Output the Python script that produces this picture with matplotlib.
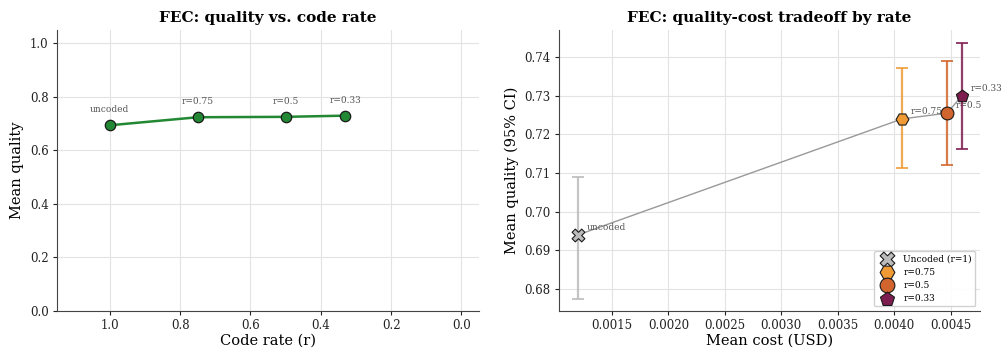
import matplotlib
matplotlib.use("Agg")
import matplotlib.pyplot as plt

plt.rcParams['font.family'] = ['DejaVu Serif']

rates = [1.0, 0.75, 0.5, 0.33]
rate_labels = ["uncoded", "r=0.75", "r=0.5", "r=0.33"]
quality = [0.694, 0.7240, 0.7255, 0.7300]
cost = [0.00120, 0.00407, 0.00447, 0.00460]
ci_low = [0.6773, 0.7113, 0.7122, 0.7161]
ci_high = [0.7090, 0.7372, 0.7390, 0.7437]
legend_labels = ["Uncoded (r=1)", "r=0.75", "r=0.5", "r=0.33"]
colors = ["#bbbbbb", "#f09a36", "#d2652d", "#7d1d4f"]
markers = ["X", "H", "o", "p"]

fig = plt.figure(figsize=(10.03, 3.5), dpi=100)
ax1 = fig.add_axes([0.0568, 0.1114, 0.4208, 0.8029])
ax2 = fig.add_axes([0.5573, 0.1114, 0.4197, 0.8029])

for ax in (ax1, ax2):
    ax.spines['top'].set_visible(False)
    ax.spines['right'].set_visible(False)
    for s in ('left', 'bottom'):
        ax.spines[s].set_color('#444444')
    ax.grid(True, color='#e3e3e3', linewidth=0.8)
    ax.set_axisbelow(True)
    ax.tick_params(labelsize=8.5, colors='#222222', length=3, pad=3)

# Left panel
ax1.plot(rates, quality, '-o', color='#228833', linewidth=1.8, markersize=7.5,
         markeredgecolor='#1a1a1a', markeredgewidth=0.9)
for r, q, lab in zip(rates, quality, rate_labels):
    ax1.annotate(lab, (r, q), xytext=(0, 8), textcoords='offset points',
                 ha='center', va='bottom', fontsize=6.5, color='#555555')
ax1.set_xlim(1.15, -0.05)
ax1.set_ylim(0, 1.05)
ax1.set_xticks([1.0, 0.8, 0.6, 0.4, 0.2, 0.0])
ax1.set_yticks([0.0, 0.2, 0.4, 0.6, 0.8, 1.0])
ax1.set_xlabel("Code rate (r)", fontsize=10.5, labelpad=1)
ax1.set_ylabel("Mean quality", fontsize=10.5)
ax1.set_title("FEC: quality vs. code rate", fontsize=11, fontweight='bold')

# Right panel
ax2.plot(cost, quality, '-', color='#999999', linewidth=1.0, zorder=2)
for i in range(len(cost)):
    ax2.errorbar(cost[i], quality[i],
                 yerr=[[quality[i] - ci_low[i]], [ci_high[i] - quality[i]]],
                 fmt='none', ecolor=colors[i], elinewidth=1.6, capsize=4,
                 capthick=1.4, alpha=0.85, zorder=3)
    ax2.scatter(cost[i], quality[i], marker=markers[i], s=85, color=colors[i],
                edgecolors='#1a1a1a', linewidths=0.8, zorder=4,
                label=legend_labels[i])
    ax2.annotate(rate_labels[i], (cost[i], quality[i]), xytext=(6, 2),
                 textcoords='offset points', fontsize=6.5, color='#555555',
                 ha='left', va='bottom')
ax2.set_xlim(0.00103, 0.00476)
ax2.set_ylim(0.6743, 0.747)
ax2.set_xticks([0.0015, 0.0020, 0.0025, 0.0030, 0.0035, 0.0040, 0.0045])
ax2.set_yticks([0.68, 0.69, 0.70, 0.71, 0.72, 0.73, 0.74])
ax2.set_xticklabels([f"{v:.4f}" for v in ax2.get_xticks()])
ax2.set_yticklabels([f"{v:.2f}" for v in ax2.get_yticks()])
ax2.set_xlabel("Mean cost (USD)", fontsize=10.5, labelpad=1)
ax2.set_ylabel("Mean quality (95% CI)", fontsize=10.5)
ax2.set_title("FEC: quality-cost tradeoff by rate", fontsize=11, fontweight='bold')
ax2.legend(loc='lower right', fontsize=6.5, frameon=True, framealpha=0.9,
           edgecolor='#cccccc', handletextpad=0.8, borderpad=0.4,
           labelspacing=0.45, fancybox=True, markerscale=1.15)

fig.savefig("out.png", dpi=100)
